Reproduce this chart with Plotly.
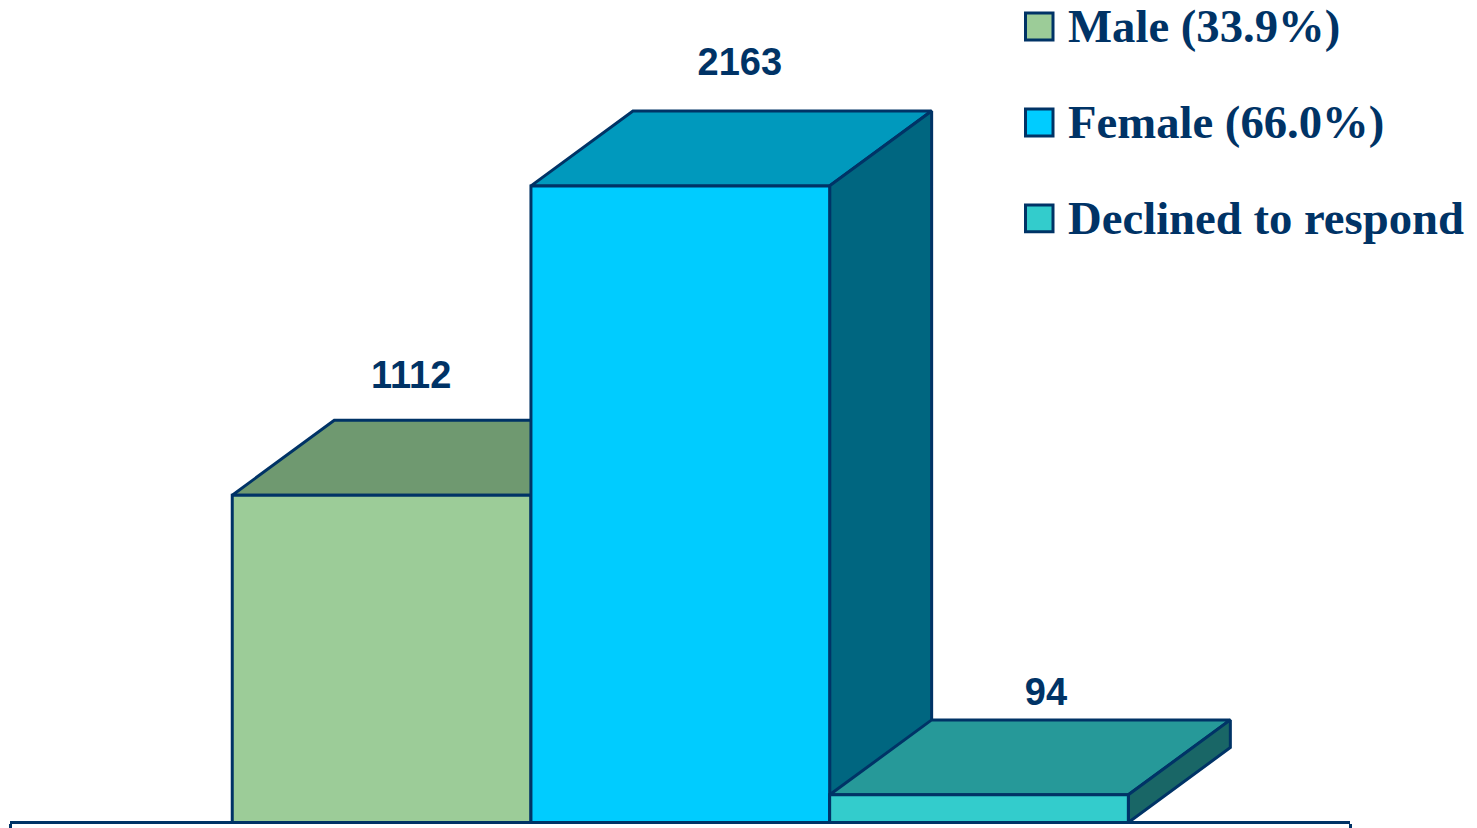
import plotly.graph_objects as go

categories = ["Male (33.9%)", "Female (66.0%)", "Declined to respond"]
values = [1112, 2163, 94]
value_labels = ["1112", "2163", "94"]
front_colors = ["#9CCC98", "#00CCFF", "#33CCCC"]
top_colors = ["#6F9970", "#0099BD", "#269999"]
side_colors = ["#4F7A52", "#006680", "#196666"]

INK = "#003366"
W, H = 1477, 828
AX_L, AX_R, BASE = 10, 1350, 823
AX_LINE = 3
AX_B = BASE - AX_LINE / 2  # plot-area bottom, so the axis line centres on the baseline
UNIT_PX = 298.7            # pixels per category
VAL_PX = 0.2945            # pixels per value unit
CENTER0 = 381.6            # pixel of first bar's centre
DX = 102 / UNIT_PX         # 3-D depth in category units
DY = 75 / VAL_PX           # 3-D depth in value units
HALF = 0.5

x_range = [(AX_L - CENTER0) / UNIT_PX, (AX_R - CENTER0) / UNIT_PX]
y_range = [(AX_LINE / 2) / VAL_PX, BASE / VAL_PX]

label_dx = [29.5 / UNIT_PX, 59.5 / UNIT_PX, 67 / UNIT_PX]
label_dy = [117 / VAL_PX, 120 / VAL_PX, 99 / VAL_PX]

fig = go.Figure()


def face(xs, ys, color, name):
    fig.add_trace(go.Scatter(
        x=xs + xs[:1], y=ys + ys[:1], mode="lines", fill="toself",
        fillcolor=color, line=dict(color=INK, width=3), name=name,
        showlegend=False, hoverinfo="skip", cliponaxis=False,
    ))


for i, (cat, v) in enumerate(zip(categories, values)):
    l, r = i - HALF, i + HALF
    face([l, l + DX, r + DX, r], [v, v + DY, v + DY, v], top_colors[i], cat + " top")
    face([r, r + DX, r + DX, r], [0, DY, v + DY, v], side_colors[i], cat + " side")
    face([l, r, r, l], [0, 0, v, v], front_colors[i], cat)

fig.add_trace(go.Scatter(
    x=[i + d for i, d in enumerate(label_dx)],
    y=[v + d for v, d in zip(values, label_dy)],
    mode="text", text=value_labels, textposition="middle center",
    textfont=dict(family="Liberation Sans", size=38, color=INK),
    texttemplate="<b>%{text}</b>", showlegend=False, hoverinfo="skip",
    cliponaxis=False,
))

legend_rows = [26.5, 122.5, 218.5]
shapes, annotations = [], []
for cat, c, py in zip(categories, front_colors, legend_rows):
    shapes.append(dict(
        type="rect", xref="paper", yref="paper",
        x0=(1025.5 - AX_L) / (AX_R - AX_L), x1=(1053 - AX_L) / (AX_R - AX_L),
        y0=(AX_B - (py + 13.5)) / AX_B, y1=(AX_B - (py - 13.5)) / AX_B,
        fillcolor=c, line=dict(color=INK, width=3),
    ))
    annotations.append(dict(
        xref="paper", yref="paper",
        x=(1068 - AX_L) / (AX_R - AX_L), y=(AX_B - py) / AX_B,
        text=f"<b>{cat}</b>", showarrow=False, xanchor="left", yanchor="middle",
        xshift=-2, align="left",
        font=dict(family="Liberation Serif", size=46.7, color=INK),
    ))

fig.update_layout(
    width=W, height=H, autosize=False,
    margin=dict(l=AX_L, r=W - AX_R, t=0, b=H - AX_B, pad=0),
    paper_bgcolor="white", plot_bgcolor="white",
    showlegend=False, shapes=shapes, annotations=annotations,
    xaxis=dict(range=x_range, showgrid=False, zeroline=False, showline=True,
               linecolor=INK, linewidth=AX_LINE, ticks="outside", tickcolor=INK,
               tickwidth=3, ticklen=6, tickmode="array", tickvals=x_range,
               ticktext=["", ""], showticklabels=False, fixedrange=True),
    yaxis=dict(range=y_range, visible=False, fixedrange=True),
)
fig.write_html(
    "out.html",
    config=dict(displayModeBar=False),
    post_script="document.body.style.margin='0';document.body.style.overflow='hidden';",
)
